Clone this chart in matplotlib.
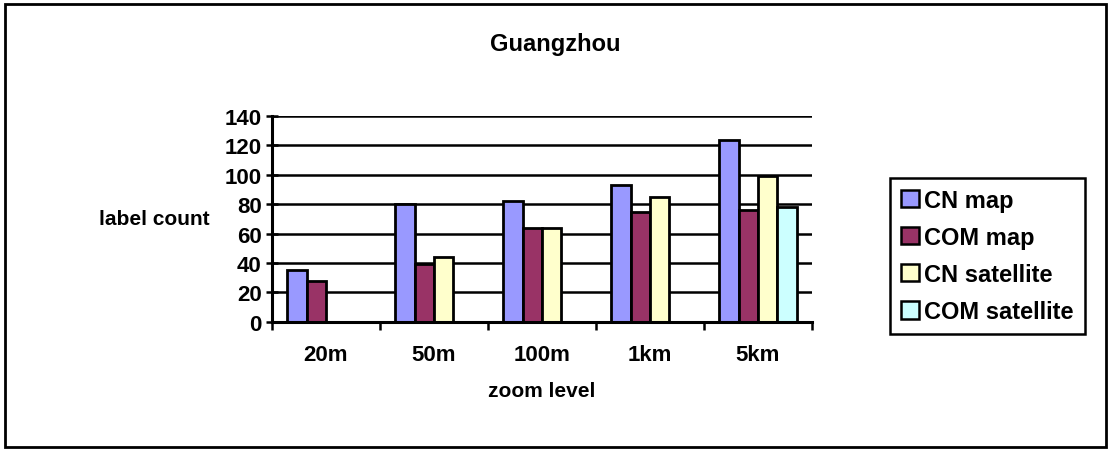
import numpy as np
import matplotlib
matplotlib.use('Agg')
import matplotlib.pyplot as plt
from matplotlib.patches import Rectangle

# data
zoom_levels = ['20m', '50m', '100m', '1km', '5km']
cn_map = [35, 80, 82, 93, 124]
com_map = [28, 39, 64, 75, 76]
cn_satellite = [0, 44, 64, 85, 99]
com_satellite = [0, 0, 0, 0, 78]

series = [cn_map, com_map, cn_satellite, com_satellite]
names = ['CN map', 'COM map', 'CN satellite', 'COM satellite']
colors = ['#9999FF', '#993366', '#FFFFCC', '#CCFFFF']

plt.rcParams['font.family'] = ['Liberation Sans', 'DejaVu Sans']
plt.rcParams['font.weight'] = 'bold'

W, H = 1111, 456
fig = plt.figure(figsize=(W / 100, H / 100), dpi=100)

# axes placed in pixel terms
left, right, top, bottom = 272, 812, 117, 322.7
ax = fig.add_axes([left / W, 1 - bottom / H, (right - left) / W, (bottom - top) / H])

ind = np.arange(len(zoom_levels))
width = 0.18

for i, vals in enumerate(series):
    ax.bar(ind + (i - 1.5) * width, vals, width, color=colors[i],
           edgecolor='black', linewidth=2, label=names[i], zorder=3)

ax.set_xlim(-0.5, 4.5)
ax.set_ylim(0, 140)
ax.set_yticks(np.arange(0, 141, 20))
ax.yaxis.grid(True, color='black', linewidth=1.8, zorder=0)
ax.set_axisbelow(True)

ax.set_xticks(ind)
ax.set_xticklabels(zoom_levels, fontsize=16, fontweight='bold')
ax.set_xticks(np.arange(-0.5, 4.6, 1), minor=True)
ax.tick_params(axis='x', which='major', length=0, pad=16)
ax.tick_params(axis='x', which='minor', length=6, width=1.8, direction='out')
ax.tick_params(axis='y', length=9, width=1.8, direction='inout', labelsize=16, pad=3)
for lab in ax.get_yticklabels():
    lab.set_fontweight('bold')

for s in ['top', 'right']:
    ax.spines[s].set_visible(False)
for s in ['left', 'bottom']:
    ax.spines[s].set_linewidth(2.2)
    ax.spines[s].set_zorder(4)

fig.text(555 / W, 1 - 44 / H, 'Guangzhou', ha='center', va='center', fontsize=17, fontweight='bold')
fig.text(154 / W, 1 - 220 / H, 'label count', ha='center', va='center', fontsize=15, fontweight='bold')
fig.text(542 / W, 1 - 392 / H, 'zoom level', ha='center', va='center', fontsize=15, fontweight='bold')

leg = fig.legend(loc='upper left', bbox_to_anchor=(890 / W, 1 - 179 / H), borderaxespad=0,
                 fancybox=False, edgecolor='black', prop={'size': 17, 'weight': 'bold'},
                 handlelength=0.76, handleheight=0.76, handletextpad=0.25,
                 labelspacing=0.6, borderpad=0.45, framealpha=1)
leg.get_frame().set_linewidth(1.8)
for p in leg.get_patches():
    p.set_linewidth(1.8)

# outer chart-area border
fig.patches.append(Rectangle((5 / W, 1 - 448 / H), (1106 - 5) / W, (448 - 5) / H,
                             transform=fig.transFigure, fill=False,
                             edgecolor='black', linewidth=2))

fig.savefig('out.png', dpi=100)
